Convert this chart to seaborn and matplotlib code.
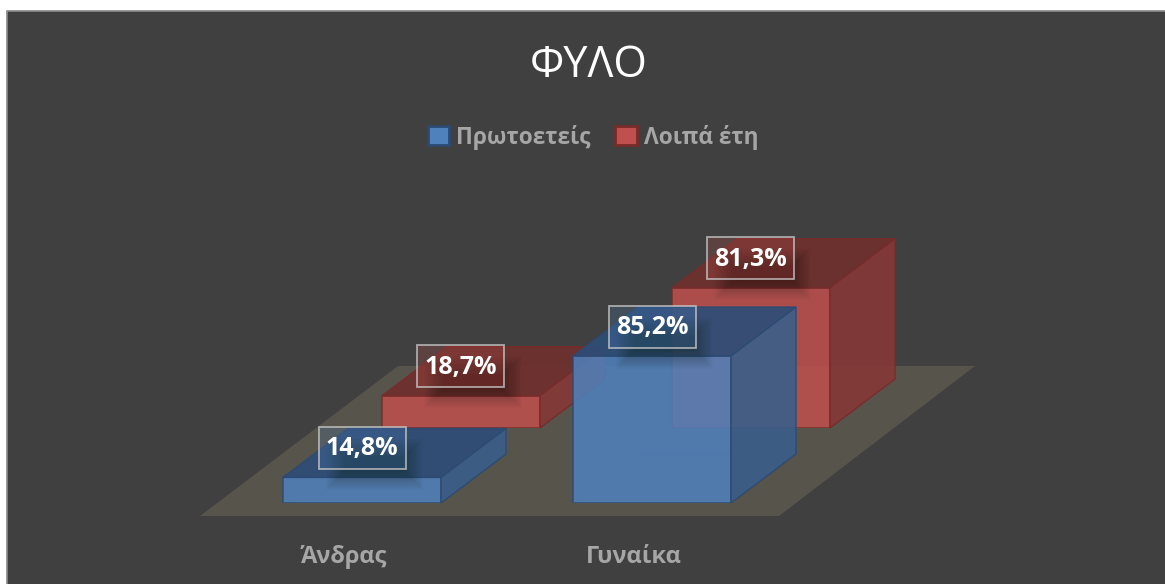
import matplotlib
matplotlib.use('Agg')
import matplotlib.pyplot as plt
import seaborn as sns
from matplotlib.colors import to_rgba
from matplotlib.patches import Polygon, Rectangle, Patch
from matplotlib.transforms import IdentityTransform, ScaledTranslation

# Chart data
categories = ['Άνδρας', 'Γυναίκα']
first_year = [14.8, 85.2]
other_years = [18.7, 81.3]
series_names = ['Πρωτοετείς', 'Λοιπά έτη']

W, H = 1165, 584
DEPTH = (65, 49)  # oblique depth of the boxes, pixels

sns.set_theme(style='white')
plt.rcParams['font.family'] = ['Open Sans', 'DejaVu Sans']

fig = plt.figure(figsize=(W / 100, H / 100), dpi=100, facecolor='white')
px = IdentityTransform()


def flip(points):
    # image pixels (y down) to display pixels (y up)
    return [(x, H - y) for x, y in points]


# Dark panel and floor
fig.add_artist(Rectangle((7, -5), W, H - 11 + 5, transform=px, fc='#404040', ec='#8a8a8a', lw=1.2, zorder=0))
floor = flip([(200, 516), (779, 516), (975, 366), (398, 366)])
fig.add_artist(Polygon(floor, closed=True, transform=px, fc='#57544b', ec='none', zorder=0.5))


def box_axes(left, baseline, values, color, edge, top_color, side_color, zorder):
    ax = fig.add_axes([left / W, (H - baseline) / H, 580 / W, 172.5 / H], zorder=zorder)
    ax.patch.set_visible(False)
    sns.barplot(x=categories, y=values, color=color, saturation=1, alpha=0.85, width=0.545,
                edgecolor=edge, linewidth=1.2, ax=ax)
    ax.set_ylim(0, 100)
    ax.set_yticks([])
    sns.despine(ax=ax, left=True, bottom=True)

    dx, dy = DEPTH
    for bar, value in zip(ax.patches, values):
        (x0, y0) = ax.transData.transform((bar.get_x(), 0))
        (x1, y1) = ax.transData.transform((bar.get_x() + bar.get_width(), value))

        # hidden edges seen through the front face
        ax.add_patch(Polygon([(x0, y0), (x0 + dx, y0 + dy), (x1 + dx, y0 + dy)], closed=False, fill=False,
                             transform=px, ec=edge, lw=0.8, alpha=0.25, clip_on=False, zorder=0.5))
        ax.add_patch(Polygon([(x0 + dx, y0 + dy), (x0 + dx, y1 + dy)], closed=False, fill=False,
                             transform=px, ec=edge, lw=0.8, alpha=0.25, clip_on=False, zorder=0.5))
        # top and side faces
        ax.add_patch(Polygon([(x0, y1), (x1, y1), (x1 + dx, y1 + dy), (x0 + dx, y1 + dy)], transform=px,
                             fc=top_color, ec=edge, lw=1.0, alpha=0.93, clip_on=False, zorder=3))
        ax.add_patch(Polygon([(x1, y0), (x1 + dx, y0 + dy), (x1 + dx, y1 + dy), (x1, y1)], transform=px,
                             fc=side_color, ec=edge, lw=1.0, alpha=0.9, clip_on=False, zorder=3))

        # label shadow and box
        cx = (x0 + x1) / 2
        cy = y1 + 29.5
        for grow in range(-14, 6):
            ax.add_patch(Rectangle((cx - 43.5 + 12 - grow, cy - 21 - 16 - grow), 87 + 2 * grow, 42 + 2 * grow,
                                   transform=px, fc='#1a1a1a', ec='none', alpha=0.018, clip_on=False, zorder=4))
        ax.add_patch(Rectangle((cx - 43.5, cy - 21), 87, 42, transform=px, fc=to_rgba(color, 0.22),
                               ec=to_rgba('#c4c4c4', 0.8), lw=1.3, clip_on=False, zorder=5))
        ax.text(cx, cy - 1, f'{value:.1f}'.replace('.', ',') + '%', transform=px, ha='center', va='center',
                color='white', fontsize=18, fontweight='bold', clip_on=False, zorder=6)
    return ax


ax_red = box_axes(316, 428, other_years, '#c0504d', '#772c2a', '#6f302d', '#853836', 1)
ax_blue = box_axes(217, 503, first_year, '#4f81bd', '#2c4a72', '#2e4d78', '#3a5e8a', 2)

# Category labels sit under the front row, a little left of the bars
ax_red.set_xticks([])
ax_blue.tick_params(axis='x', length=0, pad=30, labelsize=17, labelcolor='#a6a6a6')
for label in ax_blue.get_xticklabels():
    label.set_fontweight('bold')
    label.set_transform(label.get_transform() + ScaledTranslation(-18 / 100, 0, fig.dpi_scale_trans))

fig.text(589 / W, (H - 66) / H, 'ΦΥΛΟ', color='white', fontsize=31, ha='center', va='center')

handles = [Patch(fc='#4f81bd', ec='#2c4a72', lw=2), Patch(fc='#c0504d', ec='#772c2a', lw=2)]
fig.legend(handles, series_names, ncol=2, loc='center', bbox_to_anchor=(593 / W, (H - 137) / H), frameon=False,
           prop={'size': 16.3, 'weight': 'bold'}, labelcolor='#a6a6a6', handlelength=0.95, handleheight=0.95,
           handletextpad=0.3, columnspacing=1.1)

plt.savefig('out.png', dpi=100, facecolor='white')
